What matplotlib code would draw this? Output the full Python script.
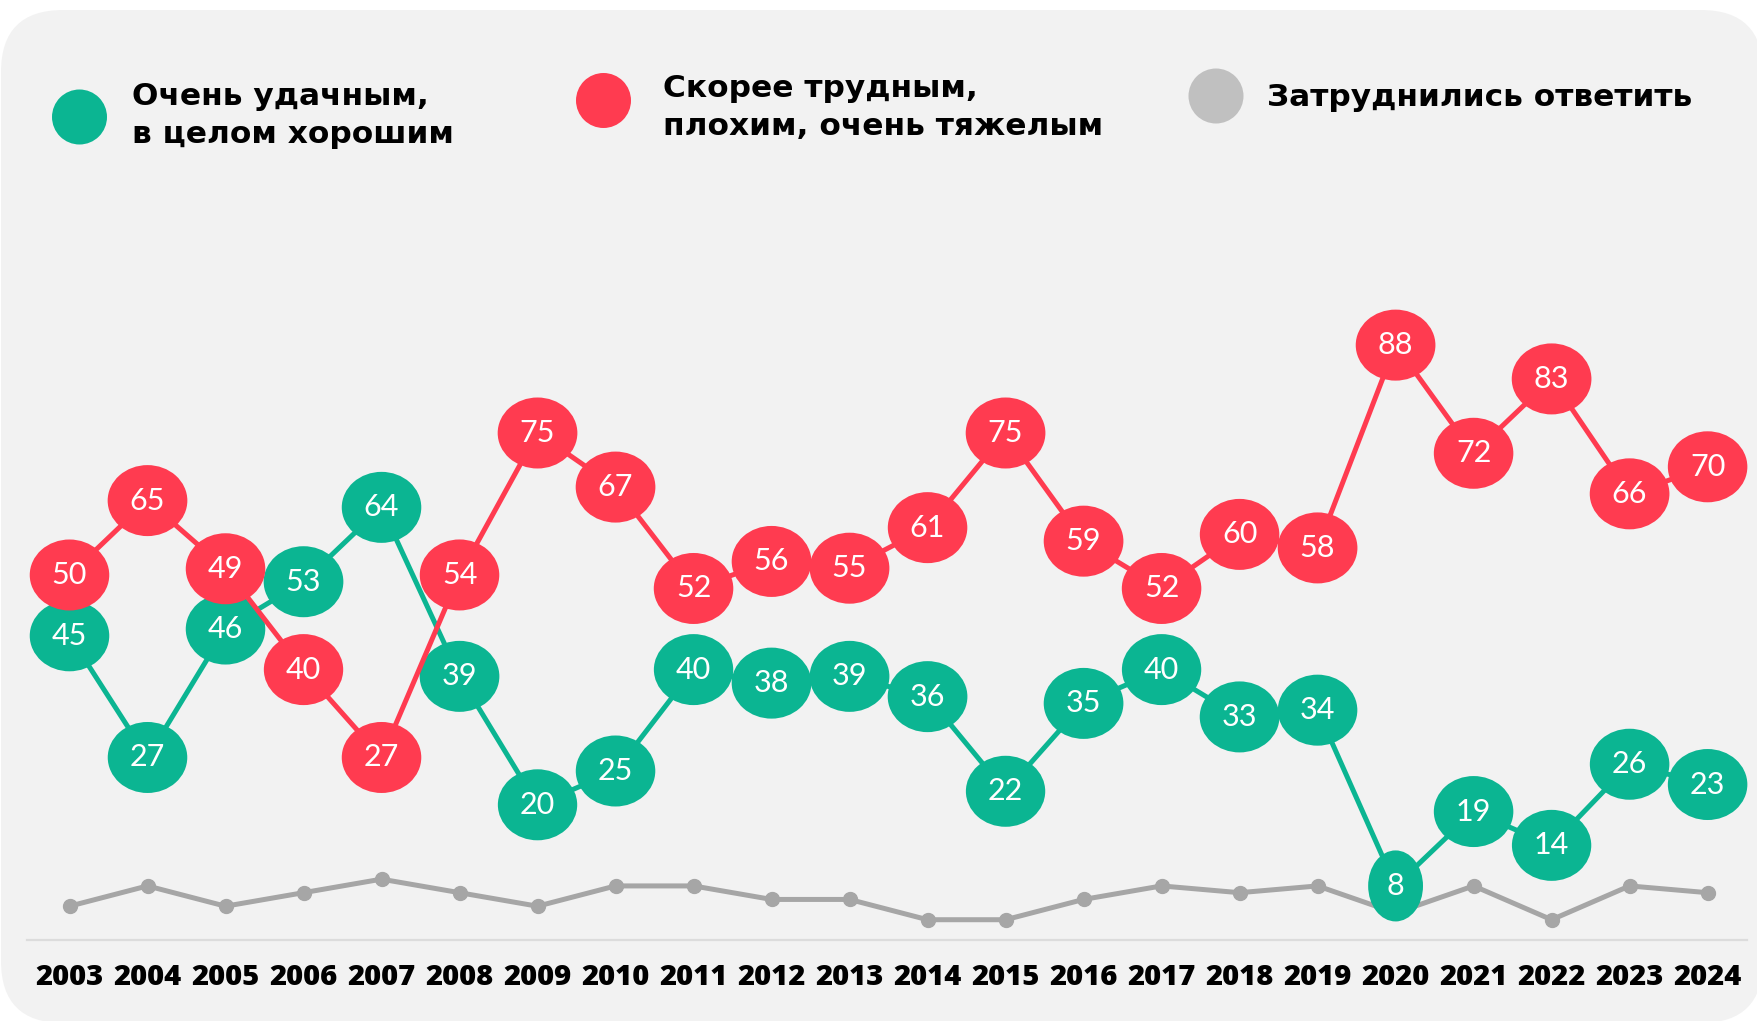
import matplotlib
matplotlib.use("Agg")
import matplotlib.pyplot as plt
from matplotlib.patches import Ellipse, FancyBboxPatch
from matplotlib.transforms import IdentityTransform, blended_transform_factory

years = list(range(2003, 2025))
good = [45, 27, 46, 53, 64, 39, 20, 25, 40, 38, 39, 36, 22, 35, 40, 33, 34, 8, 19, 14, 26, 23]
bad = [50, 65, 49, 40, 27, 54, 75, 67, 52, 56, 55, 61, 75, 59, 52, 60, 58, 88, 72, 83, 66, 70]
unsure = [5, 8, 5, 7, 9, 7, 5, 8, 8, 6, 6, 3, 3, 6, 8, 7, 8, 4, 8, 3, 8, 7]
legend_labels = ["Очень удачным,\nв целом хорошим",
                 "Скорее трудным,\nплохим, очень тяжелым",
                 "Затруднились ответить"]

GREEN = "#0bb592"
RED = "#ff3b50"
GRAY = "#a6a6a6"
LGRAY = "#c0c0c0"
BG = "#f2f2f2"

W, H = 1757, 1021
fig = plt.figure(figsize=(W / 100, H / 100), dpi=100)
fig.patch.set_facecolor("white")
renderer = fig.canvas.get_renderer()

# rounded background panel (pixel coords)
bgp = FancyBboxPatch((1, -2), 1762, 1013, boxstyle="round,pad=0,rounding_size=62",
                     transform=IdentityTransform(), facecolor=BG, edgecolor="none", zorder=-10)
fig.patches.append(bgp)

ax = fig.add_axes([0, 0, 1, 1])
ax.set_zorder(5)
ax.patch.set_visible(False)
ax.axis("off")

px_year = (1707.6 - 69.5) / 21
px_unit = 6.76
x0 = 2003 - 69.5 / px_year
x1 = 2024 + (W - 1707.6) / px_year
y0 = -81 / px_unit
y1 = (H - 81) / px_unit
ax.set_xlim(x0, x1)
ax.set_ylim(y0, y1)

# baseline
ax.axhline(0, xmin=27 / W, xmax=1747 / W, color="#dcdcdc", lw=1.6, zorder=1)

# gray series
ax.plot(years, unsure, color=GRAY, lw=3.6, marker="o", ms=10, zorder=2,
        solid_joinstyle="round")

lab_font = ["Lato", "DejaVu Sans"]

# small vertical display nudges (pixels) the original applies to avoid overlapping bubbles
red_nudge_px = {2003: 27, 2005: 40}

def draw_series(vals, color, zbase, nudges):
    ys = [v + nudges.get(x, 0) / px_unit for x, v in zip(years, vals)]
    ax.plot(years, ys, color=color, lw=3.6, zorder=zbase, solid_joinstyle="round")
    for x, v, yy in zip(years, vals, ys):
        s = str(v)
        t = ax.text(x, yy, s, color="white", fontsize=22, ha="center", va="center",
                    family=lab_font, zorder=zbase + 2)
        tw = t.get_window_extent(renderer=renderer).width
        wpx = 1.4 * tw + 30
        e = Ellipse((x, yy), width=wpx / px_year, height=71 / px_unit,
                    facecolor=color, edgecolor="none", zorder=zbase + 1)
        ax.add_patch(e)

draw_series(good, GREEN, 3, {})
draw_series(bad, RED, 6, red_nudge_px)

# year labels
tr = blended_transform_factory(ax.transData, IdentityTransform())
for x in years:
    ax.text(x, H - 985, str(x), transform=tr, ha="center", va="baseline",
            fontsize=21, fontweight="heavy", family=["Open Sans", "DejaVu Sans"], color="black")

# legend
leg_circles = [(79.5, 117), (603.5, 100.5), (1216, 96)]
leg_text_x = [132, 663, 1267]
leg_baselines = [[105, 143], [97, 135], [106]]
leg_cols = [GREEN, RED, LGRAY]
for c, tx, bls, col, lab in zip(leg_circles, leg_text_x, leg_baselines, leg_cols, legend_labels):
    e = Ellipse((c[0], H - c[1]), width=55, height=55, transform=IdentityTransform(),
                facecolor=col, edgecolor="none", zorder=2)
    fig.patches.append(e)
    for line, bl in zip(lab.split("\n"), bls):
        fig.text(tx / W, 1 - bl / H, line, ha="left", va="baseline", fontsize=22.5,
                 fontweight="bold", family=["DejaVu Sans"], color="black")

fig.savefig("out.png", dpi=100, facecolor="white")
